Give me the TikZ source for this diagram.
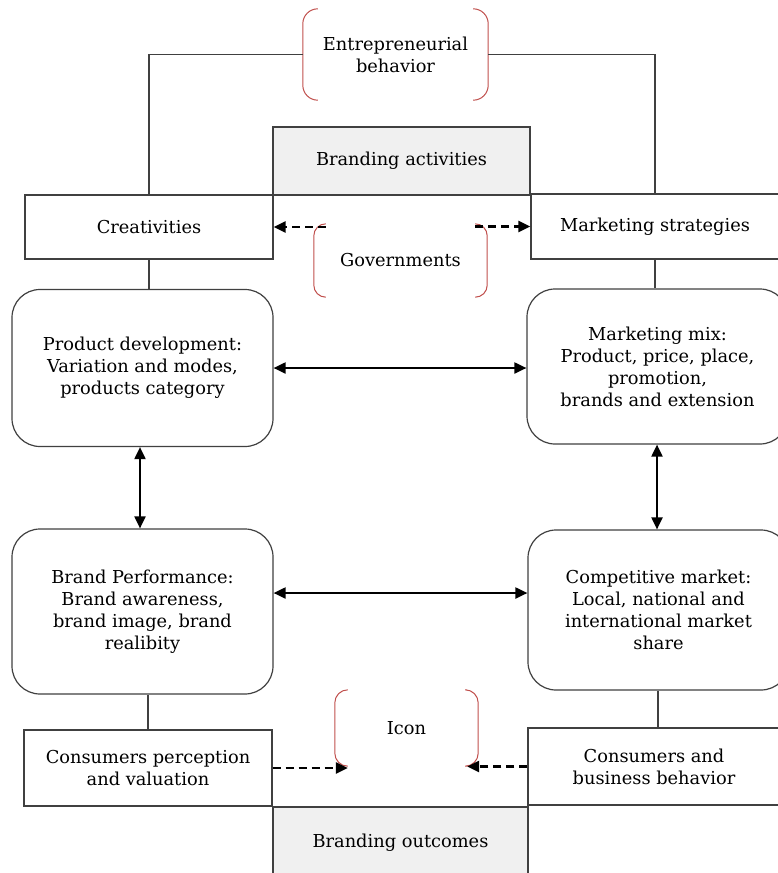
\documentclass[tikz,border=0pt]{standalone}
\usepackage{fontspec}
\setmainfont{DejaVu Serif}
\usetikzlibrary{arrows.meta,calc}
\definecolor{edge}{HTML}{404040}
\definecolor{shade}{HTML}{F0F0F0}
\definecolor{brkred}{HTML}{C0504D}
\begin{document}
\begin{tikzpicture}[x=1pt,y=-1pt,
  every node/.style={font=\fontsize{17.8}{22}\selectfont, align=center, inner sep=0pt},
  box/.style={draw=edge, line width=1.2pt, fill=white},
  gbox/.style={draw=edge, line width=1.2pt, fill=shade},
  rbox/.style={draw=edge, line width=1.2pt, fill=white, rounded corners=28pt},
  lbl/.style={draw=none},
  ln/.style={draw=edge, line width=1.2pt},
  dbl/.style={line width=2pt, {Triangle[length=12pt,width=11pt]}-{Triangle[length=12pt,width=11pt]}},
  dar/.style={line width=2.4pt, dash pattern=on 8pt off 5pt, -{Triangle[length=12pt,width=11pt]}},
  brk/.style={draw=brkred, line width=1pt}
]
\useasboundingbox (0,0) rectangle (778,873);
\clip (0,0) rectangle (778,873);

% bracketed labels
\node[lbl, minimum width=185pt, minimum height=91pt] (ent) at (395.5,54.5) {Entrepreneurial\\behavior};
\node[lbl, minimum width=173pt, minimum height=73pt] (gov) at (400.5,260.5) {Governments};
\node[lbl, minimum width=143pt, minimum height=76pt] (icon) at (406.5,728) {Icon};

\draw[brk, rounded corners=15pt] ([xshift=15pt]ent.north west) -- (ent.north west) -- (ent.south west) -- ([xshift=15pt]ent.south west);
\draw[brk, rounded corners=15pt] ([xshift=-15pt]ent.north east) -- (ent.north east) -- (ent.south east) -- ([xshift=-15pt]ent.south east);
\draw[brk, rounded corners=12pt] ([xshift=12pt]gov.north west) -- (gov.north west) -- (gov.south west) -- ([xshift=12pt]gov.south west);
\draw[brk, rounded corners=12pt] ([xshift=-12pt]gov.north east) -- (gov.north east) -- (gov.south east) -- ([xshift=-12pt]gov.south east);
\draw[brk, rounded corners=13pt] ([xshift=13pt]icon.north west) -- (icon.north west) -- (icon.south west) -- ([xshift=13pt]icon.south west);
\draw[brk, rounded corners=13pt] ([xshift=-11pt]icon.north east) -- (icon.north east) -- (icon.south east) -- ([xshift=-11pt]icon.south east);

% boxes
\node[gbox, minimum width=257pt, minimum height=68pt] (ba) at (401.5,161) {Branding activities};
\node[box, minimum width=248pt, minimum height=64pt] (cr) at (149,227) {Creativities};
\node[box, minimum width=248pt, minimum height=65pt] (ms) at (655,226.5) {Marketing strategies};
\node[rbox, minimum width=261pt, minimum height=157pt] (pd) at (142.5,368) {Product development:\\Variation and modes,\\products category};
\node[rbox, minimum width=261pt, minimum height=155pt] (mm) at (657.5,366.5) {Marketing mix:\\Product, price, place,\\promotion,\\brands and extension};
\node[rbox, minimum width=261pt, minimum height=165pt] (bp) at (142.5,611.5) {Brand Performance:\\Brand awareness,\\brand image, brand\\realibity};
\node[rbox, minimum width=261pt, minimum height=160pt] (cm) at (658.5,610) {Competitive market:\\Local, national and\\international market\\share};
\node[box, minimum width=248pt, minimum height=76pt] (cp) at (148,768) {Consumers perception\\and valuation};
\node[box, minimum width=252pt, minimum height=77pt] (cb) at (654,766.5) {Consumers and\\business behavior};
\node[gbox, minimum width=255pt, minimum height=72pt] (bo) at (400.5,843) {Branding outcomes};

% plain connectors
\draw[ln] (cr.north) |- (ent.west);
\draw[ln] (ms.north) |- (ent.east);
\draw[ln] (cr.south) -- (cr.south |- pd.north);
\draw[ln] (ms.south) -- (ms.south |- mm.north);
\draw[ln] (cp.north) -- (cp.north |- bp.south);
\draw[ln] (cm.south -| 658,0) -- (cb.north -| 658,0);

% double arrows
\draw[dbl] (pd.east) -- (pd.east -| mm.west);
\draw[dbl] (bp.east |- 0,593) -- (cm.west |- 0,593);
\draw[dbl] (pd.south -| 140,0) -- (bp.north -| 140,0);
\draw[dbl] (mm.south -| 657,0) -- (cm.north -| 657,0);

% dashed arrows
\draw[dar] ($(cr.east -| gov.west)+(12pt,0)$) -- (cr.east);
\draw[dar] ($(ms.west -| gov.east)+(-12pt,0)$) -- (ms.west);
\draw[dar] (cp.east) -- ($(cp.east -| icon.west)+(13pt,0)$);
\draw[dar] (cb.west) -- ($(cb.west -| icon.east)+(-11pt,0)$);
\end{tikzpicture}
\end{document}
